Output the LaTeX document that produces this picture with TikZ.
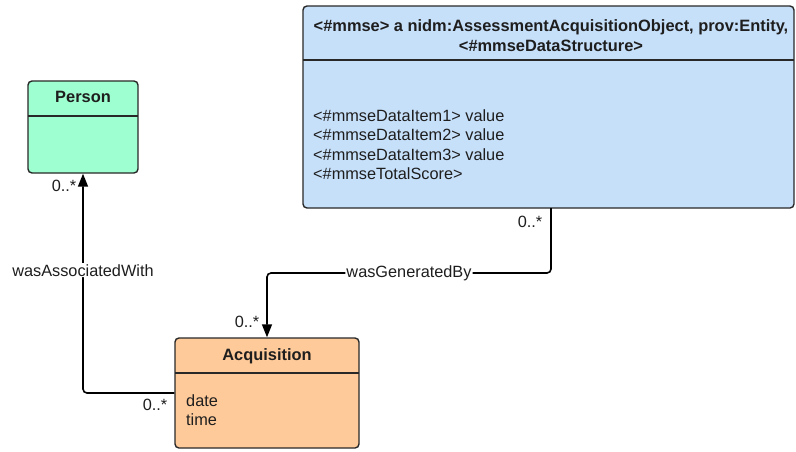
\documentclass[tikz,border=0pt]{standalone}
\usepackage{fontspec}
\setmainfont{Liberation Sans}
\usetikzlibrary{arrows.meta}

\definecolor{mmseblue}{RGB}{199,224,250}
\definecolor{persongreen}{RGB}{158,255,208}
\definecolor{acqorange}{RGB}{255,202,153}
\definecolor{umlline}{RGB}{40,40,40}
\definecolor{umltext}{RGB}{30,30,30}

\tikzset{
  classbox/.style={draw=umlline, line width=1.4pt, rounded corners=4pt, inner sep=0pt},
  classtitle/.style={font=\bfseries\fontsize{16.4}{20}\selectfont, text=umltext, inner sep=0pt, anchor=base},
  attr/.style={font=\fontsize{16.3}{20}\selectfont, text=umltext, inner sep=0pt, anchor=base west},
  mult/.style={font=\fontsize{16.3}{20}\selectfont, text=umltext, inner sep=0pt},
  assoc/.style={draw=black, line width=1.6pt, rounded corners=4pt, -{Triangle[width=10pt,length=13pt]}},
  rolelabel/.style={font=\fontsize{16.3}{20}\selectfont, text=umltext, fill=white, inner sep=1pt},
}

\begin{document}
\begin{tikzpicture}[x=1pt, y=-1pt]
    \useasboundingbox (0,0) rectangle (796,451);

    %Classes
    \node[classbox, fill=mmseblue, minimum width=491pt, minimum height=202pt] (MMSE) at (548.5,107) {};
    \draw[umlline, line width=1.4pt] (303,60) -- (794,60);
    \node[classtitle] (MMSETitle) at (551,31) {<\#mmse> a nidm:AssessmentAcquisitionObject, prov:Entity,};
    \node[classtitle] (MMSETitleCont) at (551,51) {<\#mmseDataStructure>};
    \foreach \txt [count=\i] in {<\#mmseDataItem1> value, <\#mmseDataItem2> value,
                                 <\#mmseDataItem3> value, <\#mmseTotalScore>}
        \node[attr] (MMSEItem\i) at (313, 101.5+19.5*\i) {\txt};

    \node[classbox, fill=persongreen, minimum width=110pt, minimum height=92pt] (Person) at (83,127) {};
    \draw[umlline, line width=1.4pt] (28,116) -- (138,116);
    \node[classtitle] (PersonTitle) at (83,102) {Person};

    \node[classbox, fill=acqorange, minimum width=184pt, minimum height=110pt] (Acquisition) at (267,393) {};
    \draw[umlline, line width=1.4pt] (175,373) -- (359,373);
    \node[classtitle] (AcquisitionTitle) at (267,360) {Acquisition};
    \node[attr] (AcqDate) at (186,406) {date};
    \node[attr] (AcqTime) at (186,425) {time};

    %Associations
    \coordinate (GenStart) at (551,208);
    \coordinate (GenBend) at (551,273);
    \draw[assoc] (GenStart) -- (GenBend) -| node[rolelabel, pos=0.25] {wasGeneratedBy} (Acquisition.north);

    \draw[assoc] (Acquisition.west) -| node[rolelabel, pos=0.78] {wasAssociatedWith} (Person.south);

    %Multiplicities
    \node[mult] (MultMMSE) at (530,222) {0..*};
    \node[mult] (MultAcqTop) at (247,322) {0..*};
    \node[mult] (MultPerson) at (64,186) {0..*};
    \node[mult] (MultAcqLeft) at (155,405) {0..*};
\end{tikzpicture}
\end{document}
